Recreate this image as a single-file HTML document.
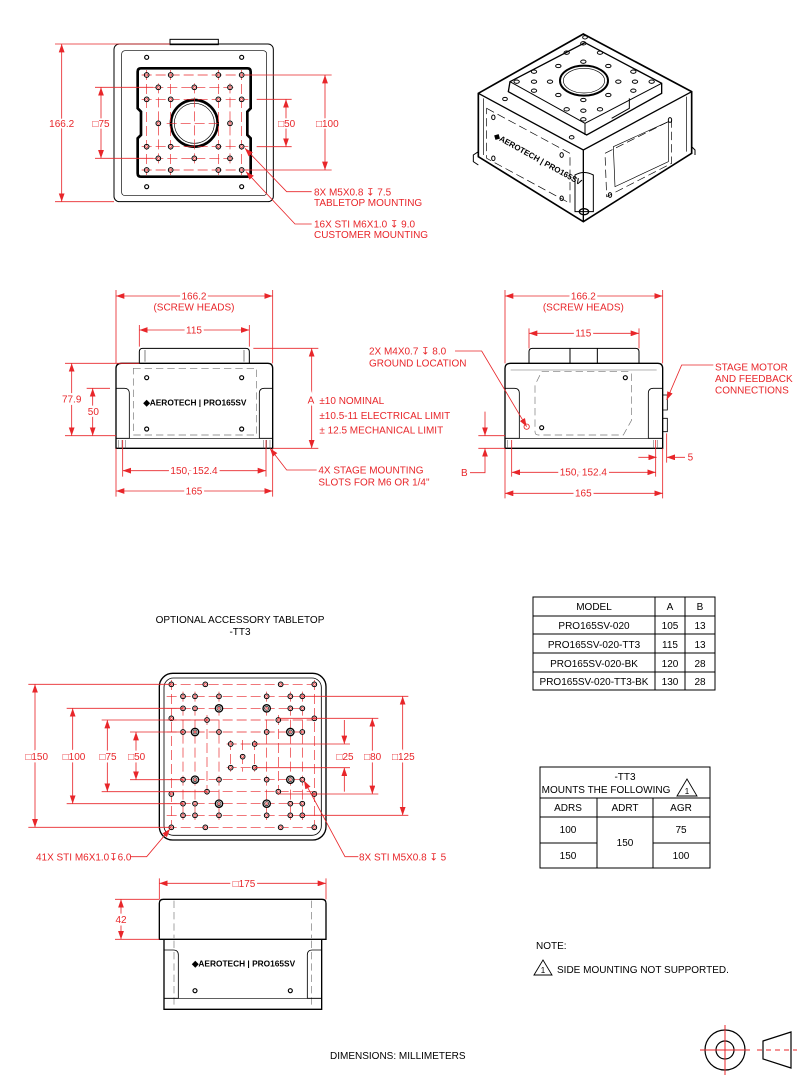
<!DOCTYPE html>
<html><head><meta charset="utf-8"><style>
html,body{margin:0;padding:0;background:#fff}
svg{display:block}
text{font-family:"Liberation Sans",Arial,sans-serif}
.r{fill:#e8262a}
.k{fill:#000}
</style></head><body>
<svg width="812" height="1080" viewBox="0 0 812 1080" xmlns="http://www.w3.org/2000/svg">
<defs>
<marker id="a" viewBox="0 0 10 7" markerWidth="10" markerHeight="7" refX="10" refY="3.5" orient="auto-start-reverse" markerUnits="strokeWidth"><path d="M0,0L10,3.5L0,7z" fill="#e8262a"/></marker>
<g id="h"><circle r="7" fill="#fff" stroke="#000" stroke-width="3"/><circle r="3" fill="none" stroke="#e8262a" stroke-width="2"/></g>
<g id="hb"><circle r="11" fill="#fff" stroke="#000" stroke-width="4"/><circle r="6" fill="none" stroke="#000" stroke-width="2"/><circle r="2.5" fill="none" stroke="#e8262a" stroke-width="2"/></g>
<g id="bh"><circle r="6" fill="#fff" stroke="#000" stroke-width="3.5"/></g>
</defs>

<!-- ============ TOP VIEW ============ -->
<g transform="translate(40,30) scale(0.33333)" font-size="30">
 <g fill="none" stroke="#000" stroke-width="3">
  <rect x="390" y="28" width="145" height="16"/>
  <rect x="222" y="42" width="478" height="473" rx="16"/>
  <rect x="245" y="62" width="435" height="435" rx="10" stroke-width="2"/>
  <path d="M303,115H622Q632,115 632,125V235L622,245V315L632,325V430Q632,440 622,440H303Q293,440 293,430V325L303,315V245L293,235V125Q293,115 303,115Z" stroke-width="8"/>
  <circle cx="463" cy="280" r="70" stroke-width="8"/>
  <circle cx="463" cy="280" r="60" stroke-width="2"/>
 </g>
 <use href="#bh" x="320" y="82"/><use href="#bh" x="605" y="82"/><use href="#bh" x="320" y="470"/><use href="#bh" x="605" y="470"/>
 <g stroke="#e8262a" stroke-width="2" stroke-dasharray="30,12" fill="none">
  <path d="M305,135H625M305,208H625M305,350H625M305,420H625M340,172H585M340,385H585"/>
  <path d="M320,120V435M392,120V435M535,120V435M605,120V435M355,160V400M570,160V400M463,160V400M380,280H545"/>
 </g>
 <g>
  <use href="#h" x="320" y="135"/><use href="#h" x="392" y="135"/><use href="#h" x="535" y="135"/><use href="#h" x="605" y="135"/>
  <use href="#h" x="355" y="172"/><use href="#h" x="463" y="172"/><use href="#h" x="570" y="172"/>
  <use href="#h" x="320" y="208"/><use href="#h" x="392" y="208"/><use href="#h" x="535" y="208"/><use href="#h" x="605" y="208"/>
  <use href="#h" x="355" y="280"/><use href="#h" x="570" y="280"/>
  <use href="#h" x="320" y="350"/><use href="#h" x="392" y="350"/><use href="#h" x="535" y="350"/><use href="#h" x="605" y="350"/>
  <use href="#h" x="355" y="385"/><use href="#h" x="463" y="385"/><use href="#h" x="570" y="385"/>
  <use href="#h" x="320" y="420"/><use href="#h" x="392" y="420"/><use href="#h" x="535" y="420"/><use href="#h" x="605" y="420"/>
 </g>
 <g stroke="#e8262a" stroke-width="2.5" fill="none">
  <path d="M45,42H390M45,515H222M165,172H340M165,385H340M650,208H755M650,350H755M615,135H875M615,420H875"/>
  <path d="M65,42V515" marker-start="url(#a)" marker-end="url(#a)"/>
  <path d="M183,172V385" marker-start="url(#a)" marker-end="url(#a)"/>
  <path d="M738,208V350" marker-start="url(#a)" marker-end="url(#a)"/>
  <path d="M855,135V420" marker-start="url(#a)" marker-end="url(#a)"/>
  <path d="M815,485H740L615,355" marker-end="url(#a)"/>
  <path d="M815,582H765L618,425" marker-end="url(#a)"/>
 </g>
 <g class="r" stroke="#fff" stroke-width="10" paint-order="stroke" text-anchor="middle">
  <text x="65" y="291">166.2</text><text x="183" y="291">□75</text><text x="740" y="291">□50</text><text x="862" y="291">□100</text>
 </g>
 <g class="r">
  <text x="822" y="497">8X M5X0.8 ↧ 7.5</text><text x="822" y="528">TABLETOP MOUNTING</text>
  <text x="822" y="593">16X STI M6X1.0 ↧ 9.0</text><text x="822" y="624">CUSTOMER MOUNTING</text>
 </g>
</g>

<!-- ============ ISO VIEW ============ -->
<g transform="translate(460,30) scale(0.33333)" fill="none" stroke="#000" stroke-width="4">
 <path d="M370,12L695,185L695,370L370,575L55,380L55,190Z" fill="#fff" stroke-width="5"/>
 <path d="M55,190L370,360L695,185M370,360V575" />
 <path d="M70,205V375M680,200V365" stroke-width="2"/>
 <path d="M375,38L605,160L605,190L380,315L145,185L150,155Z" fill="#fff"/>
 <path d="M150,155L375,280L605,160M375,280V315" stroke-width="3"/>
 <ellipse cx="372" cy="152" rx="72" ry="45" stroke-width="6"/>
 <ellipse cx="372" cy="152" rx="62" ry="37" stroke-width="2"/>
 <g stroke-width="3">
  <ellipse cx="370" cy="40" rx="8" ry="5"/><ellipse cx="320" cy="68" rx="8" ry="5"/><ellipse cx="420" cy="68" rx="8" ry="5"/>
  <ellipse cx="370" cy="95" rx="8" ry="5"/><ellipse cx="295" cy="108" rx="8" ry="5"/><ellipse cx="445" cy="108" rx="8" ry="5"/>
  <ellipse cx="222" cy="125" rx="8" ry="5"/><ellipse cx="520" cy="125" rx="8" ry="5"/>
  <ellipse cx="170" cy="155" rx="8" ry="5"/><ellipse cx="222" cy="155" rx="8" ry="5"/><ellipse cx="270" cy="155" rx="8" ry="5"/>
  <ellipse cx="475" cy="155" rx="8" ry="5"/><ellipse cx="525" cy="155" rx="8" ry="5"/><ellipse cx="575" cy="155" rx="8" ry="5"/>
  <ellipse cx="222" cy="182" rx="8" ry="5"/><ellipse cx="520" cy="182" rx="8" ry="5"/>
  <ellipse cx="295" cy="195" rx="8" ry="5"/><ellipse cx="445" cy="195" rx="8" ry="5"/><ellipse cx="370" cy="210" rx="8" ry="5"/>
  <ellipse cx="320" cy="238" rx="8" ry="5"/><ellipse cx="420" cy="238" rx="8" ry="5"/><ellipse cx="370" cy="242" rx="8" ry="5"/><ellipse cx="370" cy="268" rx="8" ry="5"/>
  <ellipse cx="135" cy="207" rx="7" ry="5"/><ellipse cx="335" cy="322" rx="7" ry="5"/><ellipse cx="375" cy="22" rx="7" ry="5"/>
  <ellipse cx="100" cy="262" rx="5" ry="7"/><ellipse cx="100" cy="385" rx="5" ry="7"/><ellipse cx="305" cy="375" rx="5" ry="7"/><ellipse cx="305" cy="505" rx="5" ry="7"/>
  <ellipse cx="630" cy="270" rx="5" ry="7"/><ellipse cx="450" cy="495" rx="5" ry="7"/>
 </g>
 <path d="M345,435V545H400V435Q372,420 345,435Z" stroke-width="3"/>
 <ellipse cx="372" cy="545" rx="14" ry="9" stroke-width="4"/>
 <path d="M80,235L330,370V520L80,385ZM435,370L635,270V400L440,500Z" stroke-width="2" stroke-dasharray="25,12"/>
 <path d="M460,350L625,275V395L465,470Z" stroke-width="2"/>
 <path d="M508,205V235L455,265" stroke-width="3"/>
 <path d="M55,365L40,375V395L55,405M695,350L705,360V375" stroke-width="3"/>
 <text x="100" y="322" transform="rotate(29 100 322)" font-size="24" font-weight="bold" fill="#000" stroke="none">◆AEROTECH | PRO165SV</text>
</g>

<!-- ============ FRONT VIEW ============ -->
<g transform="translate(40,280) scale(0.33333)" font-size="30">
 <g fill="none" stroke="#000" stroke-width="3">
  <path d="M298,250V215Q298,205 308,205H618Q628,205 628,215V250"/>
  <path d="M315,210V245M612,210V245" stroke-width="1.5"/>
  <path d="M228,505V265Q228,250 245,250H683Q698,250 698,265V505Z" stroke-width="4"/>
  <path d="M228,475H268V340Q268,325 253,325H228M698,475H658V340Q658,325 673,325H698" stroke-width="2.5"/>
  <path d="M228,475H698" stroke-width="2"/>
  <path d="M236,480V505M246,480V505M256,480V505M670,480V505M680,480V505M690,480V505" stroke-width="1.5" stroke="#555"/>
  <rect x="280" y="265" width="370" height="200" stroke-dasharray="22,12" stroke-width="2" stroke="#777"/>
 </g>
 <use href="#bh" x="320" y="293"/><use href="#bh" x="605" y="293"/><use href="#bh" x="320" y="447"/><use href="#bh" x="605" y="447"/>
 <text x="310" y="377" font-size="25" font-weight="bold" class="k">◆AEROTECH | PRO165SV</text>
 <g stroke="#e8262a" stroke-width="2.5" fill="none">
  <path d="M228,30V250M698,30V250M298,135V200M628,135V200M75,250H298M75,467H228M140,325H210M640,205H835M700,505H835M248,480V590M678,480V590M228,505V650M698,505V650"/>
  <path d="M228,48H698" marker-start="url(#a)" marker-end="url(#a)"/>
  <path d="M298,150H628" marker-start="url(#a)" marker-end="url(#a)"/>
  <path d="M95,250V467" marker-start="url(#a)" marker-end="url(#a)"/>
  <path d="M158,325V467" marker-start="url(#a)" marker-end="url(#a)"/>
  <path d="M815,205V505" marker-start="url(#a)" marker-end="url(#a)"/>
  <path d="M248,572H678" marker-start="url(#a)" marker-end="url(#a)"/>
  <path d="M228,633H698" marker-start="url(#a)" marker-end="url(#a)"/>
  <path d="M830,570H740L690,505" marker-end="url(#a)"/>
 </g>
 <g class="r" stroke="#fff" stroke-width="14" paint-order="stroke" text-anchor="middle">
  <text x="462" y="58">166.2</text><text x="462" y="160">115</text><text x="95" y="368">77.9</text><text x="160" y="405">50</text>
  <text x="813" y="370">A</text><text x="462" y="582">150, 152.4</text><text x="462" y="644">165</text>
 </g>
 <g class="r">
  <text x="462" y="92" text-anchor="middle">(SCREW HEADS)</text>
  <text x="838" y="372">±10 NOMINAL</text><text x="838" y="417">±10.5-11 ELECTRICAL LIMIT</text><text x="838" y="460">± 12.5 MECHANICAL LIMIT</text>
  <text x="835" y="581">4X STAGE MOUNTING</text><text x="835" y="616">SLOTS FOR M6 OR 1/4"</text>
 </g>
</g>

<!-- ============ SIDE VIEW ============ -->
<g transform="translate(360,280) scale(0.33333)" font-size="30">
 <g fill="none" stroke="#000" stroke-width="3">
  <path d="M507,250V215Q507,205 517,205H827Q837,205 837,215V250M630,205V250M712,205V250"/>
  <path d="M435,505V265Q435,250 452,250H893Q908,250 908,265V505Z" stroke-width="4"/>
  <path d="M435,475H478V340Q478,325 463,325H435M908,475H865V340Q865,325 880,325H908" stroke-width="2.5"/>
  <path d="M435,475H908" stroke-width="2"/>
  <path d="M452,270H890" stroke-width="1.5" stroke="#666"/>
  <path d="M545,275H805Q815,275 815,285V420L790,465H535Q525,465 525,455V315Z" stroke-dasharray="22,12" stroke-width="2" stroke="#777"/>
  <path d="M908,345H922V390H908M908,415H922V455H908" stroke-width="2.5"/>
  <path d="M443,480V505M455,480V505M880,480V505M893,480V505" stroke-width="1.5" stroke="#555"/>
 </g>
 <use href="#bh" x="796" y="293"/><use href="#bh" x="545" y="443"/>
 <circle cx="500" cy="440" r="8" fill="none" stroke="#e8262a" stroke-width="2.5"/>
 <g stroke="#e8262a" stroke-width="2.5" fill="none">
  <path d="M435,30V250M908,30V250M507,145V205M837,145V205M355,467H435M355,505H435M455,480V590M887,480V590M920,460V548M435,505V655M908,505V655"/>
  <path d="M435,48H908" marker-start="url(#a)" marker-end="url(#a)"/>
  <path d="M507,160H837" marker-start="url(#a)" marker-end="url(#a)"/>
  <path d="M375,395V467" marker-end="url(#a)"/>
  <path d="M330,578H375V505" marker-end="url(#a)"/>
  <path d="M835,532H890" marker-end="url(#a)"/>
  <path d="M975,532H920" marker-end="url(#a)"/>
  <path d="M455,577H887" marker-start="url(#a)" marker-end="url(#a)"/>
  <path d="M435,640H908" marker-start="url(#a)" marker-end="url(#a)"/>
  <path d="M285,213H365L500,440" marker-end="url(#a)"/>
  <path d="M1060,255H965L920,360" marker-end="url(#a)"/>
 </g>
 <g class="r" stroke="#fff" stroke-width="14" paint-order="stroke" text-anchor="middle">
  <text x="670" y="58">166.2</text><text x="670" y="170">115</text><text x="670" y="587">150, 152.4</text><text x="670" y="650">165</text>
 </g>
 <g class="r">
  <text x="670" y="92" text-anchor="middle">(SCREW HEADS)</text>
  <text x="27" y="224">2X M4X0.7 ↧ 8.0</text><text x="27" y="260">GROUND LOCATION</text>
  <text x="1065" y="272">STAGE MOTOR</text><text x="1065" y="306">AND FEEDBACK</text><text x="1065" y="341">CONNECTIONS</text>
  <text x="303" y="588">B</text><text x="983" y="542">5</text>
 </g>
</g>

<!-- ============ TITLE ============ -->
<g font-size="10" class="k" text-anchor="middle">
 <text x="240" y="623">OPTIONAL ACCESSORY TABLETOP</text>
 <text x="240" y="635">-TT3</text>
</g>

<!-- ============ TT3 TOP ============ -->
<g transform="translate(20,660) scale(0.33333)" font-size="30">
 <rect x="418" y="40" width="500" height="500" rx="40" fill="none" stroke="#000" stroke-width="4"/>
 <rect x="432" y="54" width="472" height="472" rx="28" fill="none" stroke="#000" stroke-width="2.5"/>
 <g stroke="#e8262a" stroke-width="2" stroke-dasharray="30,12" fill="none">
  <path d="M440,73H895M440,502H895M440,109H860M440,145H860M440,180H895M440,216H860M440,359H860M440,395H895M440,431H860M440,466H860M620,252H720M620,323H720"/>
  <path d="M454,60V515M883,60V515M489,95V480M525,95V480M561,165V410M597,95V480M740,95V480M775,165V410M811,95V480M847,95V480M632,240V335M704,240V335M668,240V335"/>
 </g>
 <g>
  <use href="#h" x="454" y="73"/><use href="#h" x="556" y="73"/><use href="#h" x="782" y="73"/><use href="#h" x="883" y="73"/>
  <use href="#h" x="489" y="109"/><use href="#h" x="525" y="109"/><use href="#h" x="597" y="109"/><use href="#h" x="740" y="109"/><use href="#h" x="811" y="109"/><use href="#h" x="847" y="109"/>
  <use href="#h" x="489" y="145"/><use href="#h" x="525" y="145"/><use href="#hb" x="597" y="145"/><use href="#hb" x="740" y="145"/><use href="#h" x="811" y="145"/><use href="#h" x="847" y="145"/>
  <use href="#h" x="454" y="175"/><use href="#h" x="561" y="180"/><use href="#h" x="775" y="180"/><use href="#h" x="883" y="175"/>
  <use href="#h" x="489" y="216"/><use href="#hb" x="525" y="216"/><use href="#h" x="597" y="216"/><use href="#h" x="740" y="216"/><use href="#hb" x="811" y="216"/><use href="#h" x="847" y="216"/>
  <use href="#h" x="632" y="252"/><use href="#h" x="704" y="252"/><use href="#h" x="668" y="290"/><use href="#h" x="632" y="323"/><use href="#h" x="704" y="323"/>
  <use href="#h" x="489" y="359"/><use href="#hb" x="525" y="359"/><use href="#h" x="597" y="359"/><use href="#h" x="740" y="359"/><use href="#hb" x="811" y="359"/><use href="#h" x="847" y="359"/>
  <use href="#h" x="454" y="402"/><use href="#h" x="561" y="395"/><use href="#h" x="775" y="395"/><use href="#h" x="883" y="402"/>
  <use href="#h" x="489" y="431"/><use href="#h" x="525" y="431"/><use href="#hb" x="597" y="431"/><use href="#hb" x="740" y="431"/><use href="#h" x="811" y="431"/><use href="#h" x="847" y="431"/>
  <use href="#h" x="489" y="466"/><use href="#h" x="525" y="466"/><use href="#h" x="597" y="466"/><use href="#h" x="740" y="466"/><use href="#h" x="811" y="466"/><use href="#h" x="847" y="466"/>
  <use href="#h" x="454" y="502"/><use href="#h" x="556" y="502"/><use href="#h" x="782" y="502"/><use href="#h" x="883" y="502"/>
 </g>
 <g stroke="#e8262a" stroke-width="2.5" fill="none">
  <path d="M25,73H454M25,502H454M140,145H489M140,431H489M245,180H561M245,395H561M330,216H489M330,359H489M704,252H990M704,323H990M775,175H1075M775,402H1075M847,109H1165M847,466H1165"/>
  <path d="M45,73V502" marker-start="url(#a)" marker-end="url(#a)"/>
  <path d="M158,145V431" marker-start="url(#a)" marker-end="url(#a)"/>
  <path d="M262,180V395" marker-start="url(#a)" marker-end="url(#a)"/>
  <path d="M348,216V359" marker-start="url(#a)" marker-end="url(#a)"/>
  <path d="M973,180V252" marker-end="url(#a)"/>
  <path d="M973,395V323" marker-end="url(#a)"/>
  <path d="M1057,175V402" marker-start="url(#a)" marker-end="url(#a)"/>
  <path d="M1148,109V466" marker-start="url(#a)" marker-end="url(#a)"/>
  <path d="M330,590H380L450,507" marker-end="url(#a)"/>
  <path d="M1015,590H975L852,362" marker-end="url(#a)"/>
 </g>
 <g class="r" stroke="#fff" stroke-width="14" paint-order="stroke" text-anchor="middle">
  <text x="50" y="300">□150</text><text x="162" y="300">□100</text><text x="264" y="300">□75</text><text x="350" y="300">□50</text>
  <text x="975" y="300">□25</text><text x="1058" y="300">□80</text><text x="1150" y="300">□125</text>
 </g>
 <g class="r"><text x="48" y="601">41X STI M6X1.0↧6.0</text><text x="1017" y="601">8X STI M5X0.8 ↧ 5</text></g>

 <!-- TT3 side view -->
 <g fill="none" stroke="#000" stroke-width="3">
  <path d="M418,838V730Q418,718 430,718H906Q918,718 918,730V838Z" stroke-width="4" fill="#fff"/>
  <path d="M462,722V834M875,722V834M462,842V1044M875,842V1044" stroke-dasharray="22,12" stroke-width="2" stroke="#777"/>
  <path d="M432,838V1048H905V838" stroke-width="4"/>
  <path d="M432,1015H475V885Q475,870 460,870H432M905,1015H862V885Q862,870 877,870H905" stroke-width="2.5"/>
  <path d="M432,1015H905" stroke-width="2"/>
 </g>
 <use href="#bh" x="525" y="992"/><use href="#bh" x="811" y="992"/>
 <text x="516" y="920" font-size="25" font-weight="bold" class="k">◆AEROTECH | PRO165SV</text>
 <g stroke="#e8262a" stroke-width="2.5" fill="none">
  <path d="M418,655V718M918,655V718M285,718H418M285,838H418"/>
  <path d="M418,670H918" marker-start="url(#a)" marker-end="url(#a)"/>
  <path d="M303,718V838" marker-start="url(#a)" marker-end="url(#a)"/>
 </g>
 <g class="r" stroke="#fff" stroke-width="14" paint-order="stroke" text-anchor="middle">
  <text x="672" y="681">□175</text><text x="303" y="789">42</text>
 </g>
</g>

<!-- ============ TABLES ============ -->
<g fill="none" stroke="#000" stroke-width="1">
 <rect x="533" y="597" width="182" height="93"/>
 <path d="M533,616H715M533,634H715M533,653H715M533,672H715M655,597V690M685,597V690"/>
 <rect x="540" y="767" width="170" height="101"/>
 <path d="M540,798H710M540,817H710M540,843H597M653,843H710M597,798V868M653,798V868"/>
</g>
<g font-size="10" class="k" text-anchor="middle">
 <text x="594" y="610">MODEL</text><text x="670" y="610">A</text><text x="700" y="610">B</text>
 <text x="594" y="629">PRO165SV-020</text><text x="670" y="629">105</text><text x="700" y="629">13</text>
 <text x="594" y="648">PRO165SV-020-TT3</text><text x="670" y="648">115</text><text x="700" y="648">13</text>
 <text x="594" y="667">PRO165SV-020-BK</text><text x="670" y="667">120</text><text x="700" y="667">28</text>
 <text x="594" y="685">PRO165SV-020-TT3-BK</text><text x="670" y="685">130</text><text x="700" y="685">28</text>
 <text x="625" y="780">-TT3</text>
 <text x="606" y="793">MOUNTS THE FOLLOWING</text>
 <text x="568" y="811">ADRS</text><text x="625" y="811">ADRT</text><text x="681" y="811">AGR</text>
 <text x="568" y="833">100</text><text x="568" y="859">150</text><text x="625" y="846">150</text>
 <text x="681" y="833">75</text><text x="681" y="859">100</text>
</g>
<path d="M677,796L687,779L697,796Z" fill="none" stroke="#000" stroke-width="0.9"/>
<text x="687" y="794" font-size="8" text-anchor="middle" class="k">1</text>

<!-- ============ NOTES ============ -->
<g font-size="10" class="k">
 <text x="536" y="949">NOTE:</text>
 <text x="557" y="973">SIDE MOUNTING NOT SUPPORTED.</text>
 <text x="330" y="1059">DIMENSIONS:  MILLIMETERS</text>
</g>
<path d="M534,975L543,960L552,975Z" fill="none" stroke="#000" stroke-width="0.9"/>
<text x="543" y="973" font-size="8" text-anchor="middle" class="k">1</text>

<!-- projection symbol -->
<g fill="none" stroke="#000" stroke-width="1.2">
 <circle cx="725" cy="1050" r="20"/><circle cx="725" cy="1050" r="9"/>
 <path d="M763,1041L791,1032V1068L763,1059Z"/>
</g>
<g stroke="#e8262a" stroke-width="1" fill="none">
 <path d="M700,1050H750M725,1025V1075M722,1050H728M725,1047V1053"/>
 <path d="M757,1050H797" stroke-dasharray="5,4"/>
</g>
</svg>
</body></html>
